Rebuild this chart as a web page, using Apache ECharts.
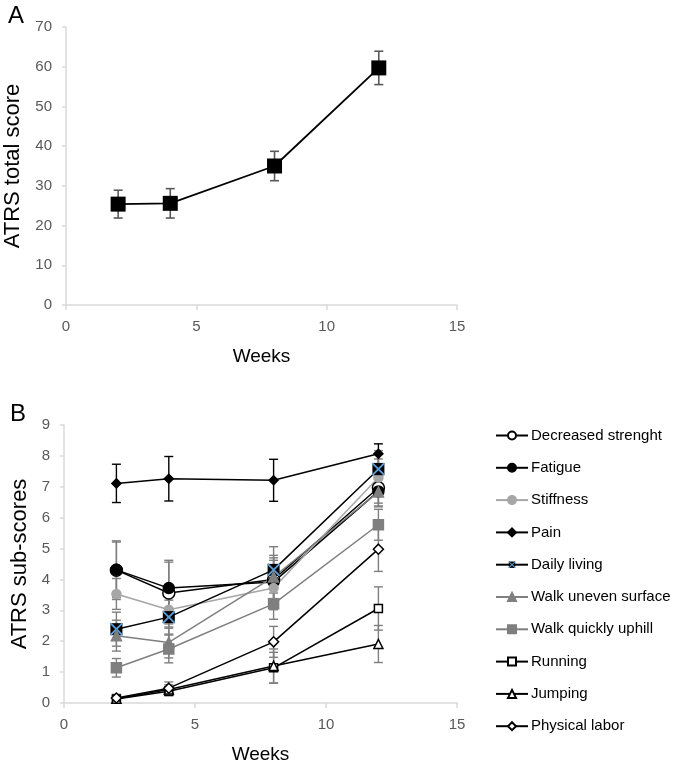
<!DOCTYPE html>
<html>
<head>
<meta charset="utf-8">
<script src="https://cdn.jsdelivr.net/npm/echarts@6/dist/echarts.min.js"></script>
<style>
html,body{margin:0;padding:0;background:#fff;}
#chart{width:685px;height:768px;}
</style>
</head>
<body>
<div id="chart"></div>
<script>
// ---------- DATA ----------
const weeks = [2, 4, 8, 12];

// Panel A
const totalScore = [25.4, 25.6, 35.0, 59.7];
const totalScoreErr = [3.5, 3.7, 3.7, 4.2];

// Panel B
const seriesNames = ['Decreased strenght', 'Fatigue', 'Stiffness', 'Pain', 'Daily living',
  'Walk uneven surface', 'Walk quickly uphill', 'Running', 'Jumping', 'Physical labor'];
const decreasedStrength = [4.30, 3.56, 4.00, 6.97];
const fatigue = [4.31, 3.72, 3.92, 6.85];
const stiffness = [3.53, 3.02, 3.72, 7.30];
const pain = [7.11, 7.26, 7.21, 8.07];
const dailyLiving = [2.39, 2.78, 4.31, 7.57];
const walkUneven = [2.18, 1.96, 4.08, 6.83];
const walkUphill = [1.14, 1.75, 3.21, 5.77];
const running = [0.13, 0.38, 1.14, 3.06];
const jumping = [0.14, 0.44, 1.20, 1.91];
const physicalLabor = [0.16, 0.48, 1.98, 4.98];

const decreasedStrengthErr = [0.95, 1.00, 0.70, 0.50];
const fatigueErr = [0.90, 0.90, 0.70, 0.50];
const stiffnessErr = [0.50, 0.60, 0.70, 0.60];
const painErr = [0.62, 0.72, 0.68, 0.32];
const dailyLivingErr = [0.55, 0.55, 0.75, 0.60];
const walkUnevenErr = [0.50, 0.50, 0.70, 0.45];
const walkUphillErr = [0.30, 0.45, 0.50, 0.50];
const runningErr = [0.10, 0.15, 0.50, 0.70];
const jumpingErr = [0.10, 0.15, 0.55, 0.60];
const physicalLaborErr = [0.12, 0.20, 0.50, 0.72];

// ---------- STYLE ----------
const FONT = 'Liberation Sans';
const axisGray = '#d9d9d9';
const labelGray = '#595959';
const midGray = '#7f7f7f';
const lightGray = '#a6a6a6';

const dailySvg = "<svg xmlns='http://www.w3.org/2000/svg' width='20' height='20'><rect x='2' y='2' width='16' height='16' fill='#000'/><path d='M2 2L18 18M18 2L2 18' stroke='#5b9bd5' stroke-width='2.6'/></svg>";
const dailySymbol = 'image://data:image/svg+xml;charset=utf-8,' + encodeURIComponent(dailySvg);

function pairs(vals) { return weeks.map((w, i) => [w, vals[i]]); }
function errPairs(vals, errs) { return weeks.map((w, i) => [w, vals[i] - errs[i], vals[i] + errs[i]]); }

function errorSeries(name, xi, yi, vals, errs, color, width) {
  return {
    type: 'custom', name: name, xAxisIndex: xi, yAxisIndex: yi, z: 1, silent: true,
    data: errPairs(vals, errs),
    renderItem: function (params, api) {
      const lo = api.coord([api.value(0), api.value(1)]);
      const hi = api.coord([api.value(0), api.value(2)]);
      const hw = 4.5;
      const st = { stroke: color, lineWidth: width };
      return {
        type: 'group', children: [
          { type: 'line', shape: { x1: lo[0], y1: lo[1], x2: hi[0], y2: hi[1] }, style: st },
          { type: 'line', shape: { x1: lo[0] - hw, y1: lo[1], x2: lo[0] + hw, y2: lo[1] }, style: st },
          { type: 'line', shape: { x1: hi[0] - hw, y1: hi[1], x2: hi[0] + hw, y2: hi[1] }, style: st }
        ]
      };
    }
  };
}

function xAxisDef(gi, gap) {
  return {
    type: 'value', gridIndex: gi, min: 0, max: 15, interval: 5,
    name: 'Weeks', nameLocation: 'middle', nameGap: gap,
    nameTextStyle: { fontFamily: FONT, fontSize: 19, color: '#000' },
    axisLine: { show: true, onZero: false, lineStyle: { color: axisGray, width: 1.5 } },
    axisTick: { show: true, length: 5, lineStyle: { color: axisGray, width: 1.5 } },
    axisLabel: { fontFamily: FONT, fontSize: 15, color: labelGray, margin: 14 },
    splitLine: { show: false }
  };
}
function yAxisDef(gi, max, interval, name, gap) {
  return {
    type: 'value', gridIndex: gi, min: 0, max: max, interval: interval,
    name: name, nameLocation: 'middle', nameGap: gap, nameRotate: 90,
    nameTextStyle: { fontFamily: FONT, fontSize: 22, color: '#000' },
    axisLine: { show: true, lineStyle: { color: axisGray, width: 1.5 } },
    axisTick: { show: true, length: 4, lineStyle: { color: axisGray, width: 1.5 } },
    axisLabel: { fontFamily: FONT, fontSize: 15, color: labelGray, margin: 14 },
    splitLine: { show: false }
  };
}

const lineDefs = [
  { name: seriesNames[0], vals: decreasedStrength, errs: decreasedStrengthErr, color: '#000', symbol: 'circle', size: 12, fill: '#fff', border: '#000', errColor: midGray },
  { name: seriesNames[1], vals: fatigue, errs: fatigueErr, color: '#000', symbol: 'circle', size: 11, fill: '#000', border: '#000', errColor: midGray },
  { name: seriesNames[2], vals: stiffness, errs: stiffnessErr, color: lightGray, symbol: 'circle', size: 9, fill: lightGray, border: lightGray, errColor: midGray },
  { name: seriesNames[3], vals: pain, errs: painErr, color: '#000', symbol: 'diamond', size: 9, fill: '#000', border: '#000', errColor: '#000' },
  { name: seriesNames[4], vals: dailyLiving, errs: dailyLivingErr, color: '#000', symbol: dailySymbol, size: 15, fill: '#000', border: '#000', errColor: midGray },
  { name: seriesNames[5], vals: walkUneven, errs: walkUnevenErr, color: midGray, symbol: 'triangle', size: 10, fill: midGray, border: midGray, errColor: midGray },
  { name: seriesNames[6], vals: walkUphill, errs: walkUphillErr, color: midGray, symbol: 'rect', size: 10, fill: midGray, border: midGray, errColor: midGray },
  { name: seriesNames[7], vals: running, errs: runningErr, color: '#000', symbol: 'rect', size: 8, fill: '#fff', border: '#000', errColor: midGray },
  { name: seriesNames[8], vals: jumping, errs: jumpingErr, color: '#000', symbol: 'triangle', size: 9, fill: '#fff', border: '#000', errColor: midGray },
  { name: seriesNames[9], vals: physicalLabor, errs: physicalLaborErr, color: '#000', symbol: 'diamond', size: 10, fill: '#fff', border: '#000', errColor: midGray }
];

const series = [];
series.push(errorSeries('errA', 0, 0, totalScore, totalScoreErr, labelGray, 1.6));
series.push({
  type: 'line', name: 'ATRS total score', xAxisIndex: 0, yAxisIndex: 0, z: 3,
  data: pairs(totalScore), symbol: 'rect', symbolSize: 15,
  lineStyle: { color: '#000', width: 1.8 },
  itemStyle: { color: '#000' }, animation: false
});
lineDefs.forEach((d, i) => {
  series.push(errorSeries('err' + i, 1, 1, d.vals, d.errs, d.errColor, 1.4));
});
lineDefs.forEach((d) => {
  series.push({
    type: 'line', name: d.name, xAxisIndex: 1, yAxisIndex: 1, z: 3,
    data: pairs(d.vals), symbol: d.symbol, symbolSize: d.size, showAllSymbol: true,
    lineStyle: { color: d.color, width: 1.5 },
    itemStyle: { color: d.fill, borderColor: d.border, borderWidth: 1.5 },
    animation: false
  });
});

const chart = echarts.init(document.getElementById('chart'), null, { renderer: 'canvas' });
chart.setOption({
  backgroundColor: '#fff',
  animation: false,
  grid: [
    { left: 66, top: 27, width: 391, height: 278, outerBoundsMode: 'none', containLabel: false },
    { left: 64, top: 425, width: 393, height: 278, outerBoundsMode: 'none', containLabel: false }
  ],
  xAxis: [xAxisDef(0, 42), xAxisDef(1, 42)],
  yAxis: [yAxisDef(0, 70, 10, 'ATRS total score', 37), yAxisDef(1, 9, 1, 'ATRS sub-scores', 32)],
  legend: {
    orient: 'vertical', left: 490, top: 423, itemGap: 17.3, itemWidth: 32, itemHeight: 10,
    data: seriesNames,
    textStyle: { fontFamily: FONT, fontSize: 15, color: '#000', padding: [0, 0, 0, -2] },
    selectedMode: false
  },
  graphic: [
    { type: 'text', left: 8, top: 4, style: { text: 'A', font: '24px "Liberation Sans"', fill: '#000' } },
    { type: 'text', left: 10, top: 402, style: { text: 'B', font: '24px "Liberation Sans"', fill: '#000' } }
  ],
  series: series
});
</script>
</body>
</html>
